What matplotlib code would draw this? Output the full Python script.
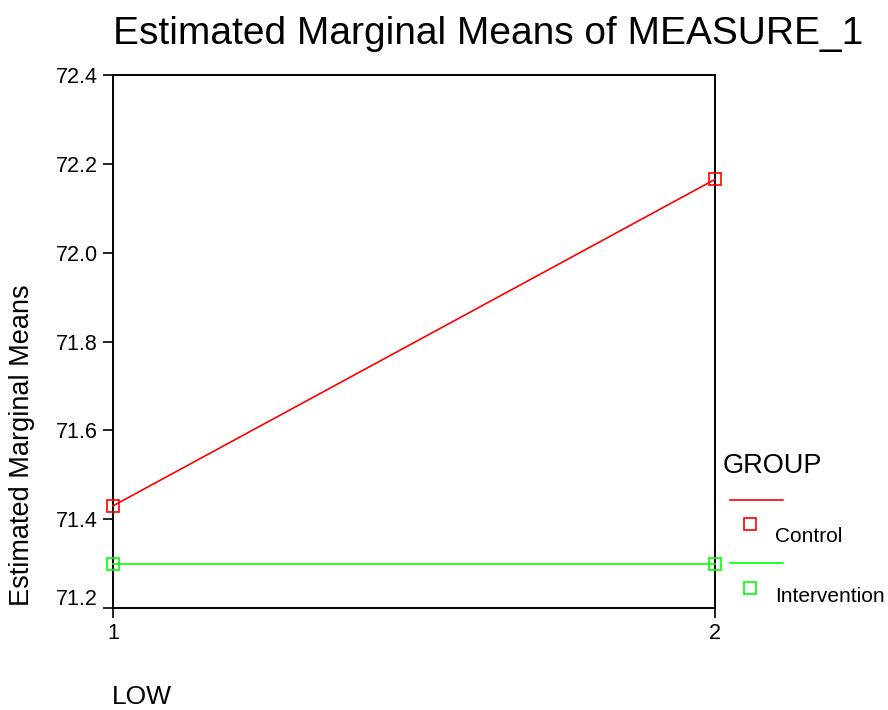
import matplotlib
matplotlib.use("Agg")
import matplotlib.pyplot as plt
import matplotlib.transforms as mtransforms
from matplotlib.lines import Line2D

plt.rcParams['font.family'] = ['Liberation Sans', 'DejaVu Sans']

# data
levels = [1, 2]
groups = ["Control", "Intervention"]
control = [71.43, 72.165]
intervention = [71.30, 71.30]
colors = ["#ff0000", "#00ff00"]
yticks = [71.2, 71.4, 71.6, 71.8, 72.0, 72.2, 72.4]

fig = plt.figure(figsize=(8.88, 7.10), dpi=100)
ax = fig.add_axes([113 / 888, 102 / 710, 602 / 888, 533 / 710])

for vals, col in zip([control, intervention], colors):
    ax.plot(levels, vals, color=col, lw=1.2, marker='s', markersize=9,
            markerfacecolor='none', markeredgecolor=col, markeredgewidth=1.2,
            clip_on=False, zorder=3)

ax.set_xlim(1, 2)
ax.set_ylim(71.2, 72.4)
ax.set_xticks(levels)
ax.set_xticklabels([str(v) for v in levels])
ax.set_yticks(yticks)
ax.set_yticklabels([f"{v:.1f}" for v in yticks])
ax.tick_params(axis='both', direction='out', length=7, width=1.2,
               labelsize=15.5, pad=4)
for sp in ax.spines.values():
    sp.set_linewidth(1.4)

# lowest y label sits a bit above its tick, as in the original
lab = ax.get_yticklabels()[0]
lab.set_transform(lab.get_transform() +
                  mtransforms.ScaledTranslation(0, 11 / 100, fig.dpi_scale_trans))

fig.text(488 / 888, 1 - 34 / 710, "Estimated Marginal Means of MEASURE_1",
         ha='center', va='center', fontsize=28)
fig.text(22 / 888, 1 - 445 / 710, "Estimated Marginal Means",
         rotation=90, ha='center', va='center', fontsize=19.5)
fig.text(112 / 888, 1 - 697 / 710, "LOW", ha='left', va='center', fontsize=19)

# legend drawn by hand
fig.text(723 / 888, 1 - 466 / 710, "GROUP", ha='left', va='center', fontsize=19.5)
rows = [(500, 524, 537), (563, 588, 597)]
for name, col, (ly, my, ty) in zip(groups, colors, rows):
    fig.add_artist(Line2D([730 / 888, 783 / 888], [1 - ly / 710, 1 - ly / 710],
                          color=col, lw=1.2, transform=fig.transFigure))
    fig.add_artist(Line2D([750 / 888], [1 - my / 710], marker='s', markersize=9,
                          markerfacecolor='none', markeredgecolor=col,
                          markeredgewidth=1.2, transform=fig.transFigure))
    fig.text(775 / 888, 1 - ty / 710, name, ha='left', va='center', fontsize=15)

fig.savefig("out.png", dpi=100)
